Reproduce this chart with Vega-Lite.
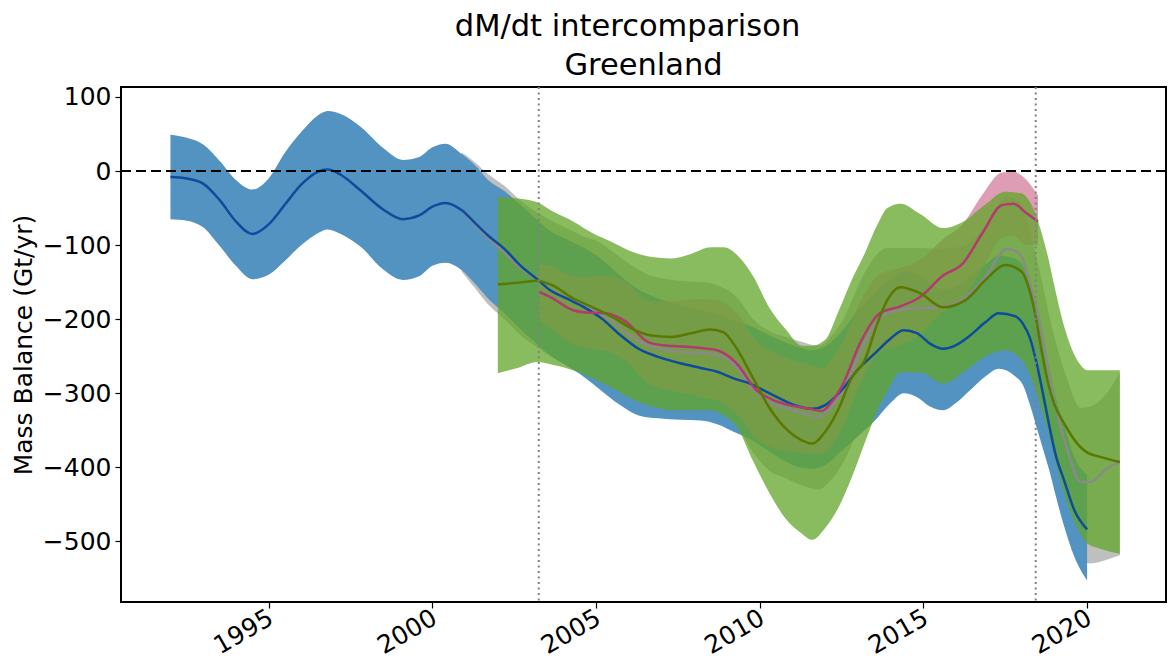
{
  "$schema": "https://vega.github.io/schema/vega-lite/v6.json",
  "width": 1045,
  "height": 515,
  "autosize": {"type": "none"},
  "padding": {"left": 121, "top": 87, "right": 3, "bottom": 66},
  "background": "white",
  "title": {
    "text": "dM/dt intercomparison\u00a0\u2800",
    "subtitle": "Greenland",
    "font": "DejaVu Sans",
    "fontSize": 30.5,
    "fontWeight": "normal",
    "color": "black",
    "subtitleFont": "DejaVu Sans",
    "subtitleFontSize": 30.5,
    "subtitleColor": "black",
    "subtitlePadding": 9,
    "anchor": "middle",
    "offset": 3
  },
  "config": {
    "view": {"stroke": "black", "strokeWidth": 2},
    "axis": {
      "labelFont": "DejaVu Sans",
      "labelFontSize": 25,
      "labelColor": "black",
      "titleFont": "DejaVu Sans",
      "titleFontSize": 25,
      "titleFontWeight": "normal",
      "titleColor": "black",
      "tickColor": "black",
      "tickSize": 6,
      "tickWidth": 1.2,
      "domain": false,
      "grid": false
    }
  },
  "datasets": {
    "dmdt": [
      {"method": "altimetry", "year": 1992.0, "dmdt": -8, "lower": -65, "upper": 49},
      {"method": "altimetry", "year": 1992.5, "dmdt": -10, "lower": -67, "upper": 45},
      {"method": "altimetry", "year": 1993.0, "dmdt": -17, "lower": -76, "upper": 36},
      {"method": "altimetry", "year": 1993.5, "dmdt": -39, "lower": -101, "upper": 14},
      {"method": "altimetry", "year": 1994.0, "dmdt": -68, "lower": -128, "upper": -12},
      {"method": "altimetry", "year": 1994.5, "dmdt": -85, "lower": -146, "upper": -25},
      {"method": "altimetry", "year": 1995.0, "dmdt": -72, "lower": -140, "upper": -10},
      {"method": "altimetry", "year": 1995.5, "dmdt": -45, "lower": -121, "upper": 25},
      {"method": "altimetry", "year": 1996.0, "dmdt": -18, "lower": -100, "upper": 53},
      {"method": "altimetry", "year": 1996.5, "dmdt": -1, "lower": -84, "upper": 75},
      {"method": "altimetry", "year": 1996.8, "dmdt": 2, "lower": -79, "upper": 81},
      {"method": "altimetry", "year": 1997.2, "dmdt": -5, "lower": -85, "upper": 77},
      {"method": "altimetry", "year": 1997.8, "dmdt": -26, "lower": -102, "upper": 60},
      {"method": "altimetry", "year": 1998.5, "dmdt": -52, "lower": -133, "upper": 31},
      {"method": "altimetry", "year": 1999.1, "dmdt": -65, "lower": -147, "upper": 15},
      {"method": "altimetry", "year": 1999.6, "dmdt": -60, "lower": -142, "upper": 19},
      {"method": "altimetry", "year": 2000.0, "dmdt": -48, "lower": -128, "upper": 32},
      {"method": "altimetry", "year": 2000.4, "dmdt": -43, "lower": -124, "upper": 37},
      {"method": "altimetry", "year": 2000.9, "dmdt": -53, "lower": -134, "upper": 23},
      {"method": "altimetry", "year": 2001.3, "dmdt": -70, "lower": -152, "upper": 8},
      {"method": "altimetry", "year": 2001.7, "dmdt": -87, "lower": -172, "upper": -12},
      {"method": "altimetry", "year": 2002.2, "dmdt": -105, "lower": -192, "upper": -27},
      {"method": "altimetry", "year": 2002.7, "dmdt": -128, "lower": -214, "upper": -46},
      {"method": "altimetry", "year": 2003.2, "dmdt": -146, "lower": -234, "upper": -66},
      {"method": "altimetry", "year": 2003.6, "dmdt": -161, "lower": -249, "upper": -81},
      {"method": "altimetry", "year": 2004.1, "dmdt": -172, "lower": -263, "upper": -92},
      {"method": "altimetry", "year": 2004.6, "dmdt": -183, "lower": -277, "upper": -103},
      {"method": "altimetry", "year": 2005.2, "dmdt": -200, "lower": -298, "upper": -120},
      {"method": "altimetry", "year": 2005.7, "dmdt": -220, "lower": -315, "upper": -140},
      {"method": "altimetry", "year": 2006.3, "dmdt": -240, "lower": -330, "upper": -160},
      {"method": "altimetry", "year": 2006.9, "dmdt": -251, "lower": -334, "upper": -172},
      {"method": "altimetry", "year": 2007.6, "dmdt": -260, "lower": -336, "upper": -182},
      {"method": "altimetry", "year": 2008.2, "dmdt": -266, "lower": -337, "upper": -188},
      {"method": "altimetry", "year": 2008.7, "dmdt": -271, "lower": -342, "upper": -193},
      {"method": "altimetry", "year": 2009.2, "dmdt": -280, "lower": -352, "upper": -202},
      {"method": "altimetry", "year": 2009.7, "dmdt": -287, "lower": -362, "upper": -209},
      {"method": "altimetry", "year": 2010.2, "dmdt": -298, "lower": -376, "upper": -220},
      {"method": "altimetry", "year": 2010.7, "dmdt": -309, "lower": -390, "upper": -230},
      {"method": "altimetry", "year": 2011.2, "dmdt": -318, "lower": -400, "upper": -238},
      {"method": "altimetry", "year": 2011.6, "dmdt": -321, "lower": -402, "upper": -242},
      {"method": "altimetry", "year": 2012.0, "dmdt": -316, "lower": -397, "upper": -237},
      {"method": "altimetry", "year": 2012.5, "dmdt": -296, "lower": -378, "upper": -217},
      {"method": "altimetry", "year": 2013.0, "dmdt": -268, "lower": -358, "upper": -188},
      {"method": "altimetry", "year": 2013.5, "dmdt": -247, "lower": -338, "upper": -166},
      {"method": "altimetry", "year": 2014.0, "dmdt": -226, "lower": -313, "upper": -146},
      {"method": "altimetry", "year": 2014.4, "dmdt": -215, "lower": -300, "upper": -135},
      {"method": "altimetry", "year": 2014.8, "dmdt": -219, "lower": -305, "upper": -139},
      {"method": "altimetry", "year": 2015.2, "dmdt": -233, "lower": -318, "upper": -152},
      {"method": "altimetry", "year": 2015.6, "dmdt": -240, "lower": -323, "upper": -160},
      {"method": "altimetry", "year": 2016.0, "dmdt": -235, "lower": -313, "upper": -155},
      {"method": "altimetry", "year": 2016.4, "dmdt": -223, "lower": -297, "upper": -143},
      {"method": "altimetry", "year": 2016.9, "dmdt": -204, "lower": -277, "upper": -126},
      {"method": "altimetry", "year": 2017.3, "dmdt": -192, "lower": -267, "upper": -114},
      {"method": "altimetry", "year": 2017.8, "dmdt": -196, "lower": -277, "upper": -118},
      {"method": "altimetry", "year": 2018.05, "dmdt": -207, "lower": -290, "upper": -129},
      {"method": "altimetry", "year": 2018.25, "dmdt": -225, "lower": -315, "upper": -147},
      {"method": "altimetry", "year": 2018.45, "dmdt": -258, "lower": -345, "upper": -180},
      {"method": "altimetry", "year": 2018.65, "dmdt": -300, "lower": -375, "upper": -222},
      {"method": "altimetry", "year": 2018.85, "dmdt": -345, "lower": -405, "upper": -267},
      {"method": "altimetry", "year": 2019.05, "dmdt": -385, "lower": -440, "upper": -307},
      {"method": "altimetry", "year": 2019.3, "dmdt": -418, "lower": -480, "upper": -344},
      {"method": "altimetry", "year": 2019.6, "dmdt": -457, "lower": -520, "upper": -385},
      {"method": "altimetry", "year": 2020.0, "dmdt": -484, "lower": -553, "upper": -410},

      {"method": "gravimetry", "year": 2002.0, "dmdt": -153, "lower": -273, "upper": -35},
      {"method": "gravimetry", "year": 2002.6, "dmdt": -151, "lower": -266, "upper": -37},
      {"method": "gravimetry", "year": 2003.2, "dmdt": -148, "lower": -258, "upper": -42},
      {"method": "gravimetry", "year": 2003.7, "dmdt": -155, "lower": -262, "upper": -55},
      {"method": "gravimetry", "year": 2004.3, "dmdt": -172, "lower": -269, "upper": -68},
      {"method": "gravimetry", "year": 2004.9, "dmdt": -184, "lower": -280, "upper": -84},
      {"method": "gravimetry", "year": 2005.5, "dmdt": -197, "lower": -293, "upper": -96},
      {"method": "gravimetry", "year": 2006.1, "dmdt": -213, "lower": -308, "upper": -109},
      {"method": "gravimetry", "year": 2006.7, "dmdt": -222, "lower": -318, "upper": -116},
      {"method": "gravimetry", "year": 2007.3, "dmdt": -224, "lower": -323, "upper": -118},
      {"method": "gravimetry", "year": 2007.9, "dmdt": -219, "lower": -323, "upper": -112},
      {"method": "gravimetry", "year": 2008.5, "dmdt": -214, "lower": -323, "upper": -103},
      {"method": "gravimetry", "year": 2008.9, "dmdt": -218, "lower": -330, "upper": -103},
      {"method": "gravimetry", "year": 2009.3, "dmdt": -240, "lower": -345, "upper": -113},
      {"method": "gravimetry", "year": 2009.8, "dmdt": -280, "lower": -392, "upper": -142},
      {"method": "gravimetry", "year": 2010.3, "dmdt": -320, "lower": -435, "upper": -185},
      {"method": "gravimetry", "year": 2010.8, "dmdt": -348, "lower": -470, "upper": -214},
      {"method": "gravimetry", "year": 2011.3, "dmdt": -364, "lower": -490, "upper": -236},
      {"method": "gravimetry", "year": 2011.6, "dmdt": -368, "lower": -498, "upper": -236},
      {"method": "gravimetry", "year": 2012.0, "dmdt": -352, "lower": -482, "upper": -228},
      {"method": "gravimetry", "year": 2012.4, "dmdt": -322, "lower": -455, "upper": -190},
      {"method": "gravimetry", "year": 2012.8, "dmdt": -280, "lower": -415, "upper": -148},
      {"method": "gravimetry", "year": 2013.2, "dmdt": -256, "lower": -368, "upper": -112},
      {"method": "gravimetry", "year": 2013.6, "dmdt": -205, "lower": -323, "upper": -72},
      {"method": "gravimetry", "year": 2013.9, "dmdt": -174, "lower": -297, "upper": -50},
      {"method": "gravimetry", "year": 2014.3, "dmdt": -157, "lower": -272, "upper": -44},
      {"method": "gravimetry", "year": 2014.9, "dmdt": -165, "lower": -272, "upper": -58},
      {"method": "gravimetry", "year": 2015.6, "dmdt": -184, "lower": -287, "upper": -77},
      {"method": "gravimetry", "year": 2016.3, "dmdt": -174, "lower": -269, "upper": -66},
      {"method": "gravimetry", "year": 2016.9, "dmdt": -147, "lower": -250, "upper": -45},
      {"method": "gravimetry", "year": 2017.5, "dmdt": -127, "lower": -242, "upper": -28},
      {"method": "gravimetry", "year": 2018.0, "dmdt": -136, "lower": -255, "upper": -30},
      {"method": "gravimetry", "year": 2018.2, "dmdt": -155, "lower": -270, "upper": -38},
      {"method": "gravimetry", "year": 2018.4, "dmdt": -190, "lower": -292, "upper": -55},
      {"method": "gravimetry", "year": 2018.6, "dmdt": -240, "lower": -320, "upper": -82},
      {"method": "gravimetry", "year": 2018.8, "dmdt": -285, "lower": -350, "upper": -115},
      {"method": "gravimetry", "year": 2019.0, "dmdt": -315, "lower": -385, "upper": -155},
      {"method": "gravimetry", "year": 2019.3, "dmdt": -341, "lower": -435, "upper": -210},
      {"method": "gravimetry", "year": 2019.8, "dmdt": -373, "lower": -490, "upper": -262},
      {"method": "gravimetry", "year": 2020.0, "dmdt": -380, "lower": -503, "upper": -269},
      {"method": "gravimetry", "year": 2020.4, "dmdt": -386, "lower": -510, "upper": -269},
      {"method": "gravimetry", "year": 2021.0, "dmdt": -393, "lower": -517, "upper": -269},

      {"method": "input-output", "year": 2003.25, "dmdt": -163, "lower": -201, "upper": -125},
      {"method": "input-output", "year": 2003.6, "dmdt": -170, "lower": -212, "upper": -128},
      {"method": "input-output", "year": 2004.3, "dmdt": -188, "lower": -234, "upper": -142},
      {"method": "input-output", "year": 2004.7, "dmdt": -191, "lower": -239, "upper": -143},
      {"method": "input-output", "year": 2005.3, "dmdt": -192, "lower": -243, "upper": -141},
      {"method": "input-output", "year": 2005.9, "dmdt": -203, "lower": -256, "upper": -150},
      {"method": "input-output", "year": 2006.6, "dmdt": -231, "lower": -287, "upper": -175},
      {"method": "input-output", "year": 2007.2, "dmdt": -236, "lower": -296, "upper": -176},
      {"method": "input-output", "year": 2007.7, "dmdt": -237, "lower": -300, "upper": -174},
      {"method": "input-output", "year": 2008.2, "dmdt": -239, "lower": -305, "upper": -173},
      {"method": "input-output", "year": 2008.7, "dmdt": -242, "lower": -310, "upper": -174},
      {"method": "input-output", "year": 2009.3, "dmdt": -260, "lower": -328, "upper": -192},
      {"method": "input-output", "year": 2009.9, "dmdt": -296, "lower": -362, "upper": -230},
      {"method": "input-output", "year": 2010.4, "dmdt": -309, "lower": -374, "upper": -244},
      {"method": "input-output", "year": 2010.9, "dmdt": -316, "lower": -379, "upper": -253},
      {"method": "input-output", "year": 2011.5, "dmdt": -321, "lower": -381, "upper": -261},
      {"method": "input-output", "year": 2011.9, "dmdt": -324, "lower": -382, "upper": -266},
      {"method": "input-output", "year": 2012.2, "dmdt": -312, "lower": -370, "upper": -254},
      {"method": "input-output", "year": 2012.55, "dmdt": -287, "lower": -344, "upper": -230},
      {"method": "input-output", "year": 2013.06, "dmdt": -233, "lower": -288, "upper": -178},
      {"method": "input-output", "year": 2013.67, "dmdt": -192, "lower": -245, "upper": -139},
      {"method": "input-output", "year": 2014.28, "dmdt": -183, "lower": -235, "upper": -131},
      {"method": "input-output", "year": 2014.9, "dmdt": -170, "lower": -220, "upper": -120},
      {"method": "input-output", "year": 2015.6, "dmdt": -141, "lower": -190, "upper": -92},
      {"method": "input-output", "year": 2016.2, "dmdt": -125, "lower": -172, "upper": -72},
      {"method": "input-output", "year": 2016.8, "dmdt": -84, "lower": -132, "upper": -32},
      {"method": "input-output", "year": 2017.4, "dmdt": -46, "lower": -90, "upper": -2},
      {"method": "input-output", "year": 2017.75, "dmdt": -44, "lower": -87, "upper": -1},
      {"method": "input-output", "year": 2018.15, "dmdt": -57, "lower": -100, "upper": -12},
      {"method": "input-output", "year": 2018.5, "dmdt": -68, "lower": -100, "upper": -33},

      {"method": "combined", "year": 2000.9, "dmdt": -53, "lower": -136, "upper": 25},
      {"method": "combined", "year": 2001.3, "dmdt": -72, "lower": -158, "upper": 12},
      {"method": "combined", "year": 2001.7, "dmdt": -90, "lower": -180, "upper": -4},
      {"method": "combined", "year": 2002.2, "dmdt": -110, "lower": -200, "upper": -20},
      {"method": "combined", "year": 2002.7, "dmdt": -131, "lower": -222, "upper": -40},
      {"method": "combined", "year": 2003.2, "dmdt": -147, "lower": -238, "upper": -56},
      {"method": "combined", "year": 2003.6, "dmdt": -160, "lower": -250, "upper": -66},
      {"method": "combined", "year": 2004.1, "dmdt": -172, "lower": -260, "upper": -77},
      {"method": "combined", "year": 2004.6, "dmdt": -182, "lower": -268, "upper": -88},
      {"method": "combined", "year": 2005.1, "dmdt": -191, "lower": -276, "upper": -96},
      {"method": "combined", "year": 2005.6, "dmdt": -207, "lower": -292, "upper": -112},
      {"method": "combined", "year": 2006.1, "dmdt": -224, "lower": -308, "upper": -128},
      {"method": "combined", "year": 2006.6, "dmdt": -236, "lower": -316, "upper": -140},
      {"method": "combined", "year": 2007.2, "dmdt": -242, "lower": -320, "upper": -146},
      {"method": "combined", "year": 2007.8, "dmdt": -245, "lower": -322, "upper": -149},
      {"method": "combined", "year": 2008.3, "dmdt": -246, "lower": -324, "upper": -150},
      {"method": "combined", "year": 2008.8, "dmdt": -250, "lower": -330, "upper": -156},
      {"method": "combined", "year": 2009.3, "dmdt": -265, "lower": -345, "upper": -170},
      {"method": "combined", "year": 2009.8, "dmdt": -295, "lower": -380, "upper": -200},
      {"method": "combined", "year": 2010.3, "dmdt": -312, "lower": -405, "upper": -216},
      {"method": "combined", "year": 2010.8, "dmdt": -320, "lower": -415, "upper": -224},
      {"method": "combined", "year": 2011.3, "dmdt": -327, "lower": -425, "upper": -231},
      {"method": "combined", "year": 2011.8, "dmdt": -332, "lower": -430, "upper": -236},
      {"method": "combined", "year": 2012.2, "dmdt": -318, "lower": -416, "upper": -222},
      {"method": "combined", "year": 2012.55, "dmdt": -296, "lower": -394, "upper": -200},
      {"method": "combined", "year": 2013.0, "dmdt": -252, "lower": -350, "upper": -156},
      {"method": "combined", "year": 2013.3, "dmdt": -224, "lower": -320, "upper": -130},
      {"method": "combined", "year": 2013.9, "dmdt": -192, "lower": -285, "upper": -104},
      {"method": "combined", "year": 2014.6, "dmdt": -186, "lower": -272, "upper": -104},
      {"method": "combined", "year": 2015.6, "dmdt": -183, "lower": -265, "upper": -105},
      {"method": "combined", "year": 2016.3, "dmdt": -170, "lower": -250, "upper": -100},
      {"method": "combined", "year": 2016.9, "dmdt": -143, "lower": -225, "upper": -73},
      {"method": "combined", "year": 2017.55, "dmdt": -105, "lower": -185, "upper": -35},
      {"method": "combined", "year": 2017.95, "dmdt": -112, "lower": -195, "upper": -42},
      {"method": "combined", "year": 2018.2, "dmdt": -143, "lower": -230, "upper": -73},
      {"method": "combined", "year": 2018.55, "dmdt": -205, "lower": -300, "upper": -135},
      {"method": "combined", "year": 2018.95, "dmdt": -300, "lower": -400, "upper": -215},
      {"method": "combined", "year": 2019.4, "dmdt": -377, "lower": -485, "upper": -282},
      {"method": "combined", "year": 2019.8, "dmdt": -420, "lower": -525, "upper": -320},
      {"method": "combined", "year": 2020.1, "dmdt": -420, "lower": -530, "upper": -318},
      {"method": "combined", "year": 2020.6, "dmdt": -402, "lower": -525, "upper": -300},
      {"method": "combined", "year": 2021.0, "dmdt": -393, "lower": -519, "upper": -272}
    ],
    "zero_line": [{"level": 0}],
    "epochs": [{"epoch": 2003.25}, {"epoch": 2018.43}]
  },
  "layer": [
    {
      "data": {"name": "dmdt"},
      "transform": [{"filter": "datum.method === 'combined'"}],
      "mark": {"type": "area", "interpolate": "monotone", "color": "#aaaaaa", "opacity": 0.75, "clip": true},
      "encoding": {
        "x": {"field": "year", "type": "quantitative", "scale": {"domain": [1990.49, 2022.41], "nice": false, "zero": false},
              "axis": {"values": [1995, 2000, 2005, 2010, 2015, 2020], "format": "d", "labelAngle": -30, "labelAlign": "right", "labelBaseline": "top", "labelPadding": -3, "labelOffset": -4, "labelOverlap": false, "labelFlush": false, "title": null}},
        "y": {"field": "lower", "type": "quantitative", "scale": {"domain": [-582, 113.5], "nice": false, "zero": false},
              "axis": {"values": [-500, -400, -300, -200, -100, 0, 100], "format": "d", "labelPadding": 4, "title": "Mass Balance (Gt/yr)", "titlePadding": 6}},
        "y2": {"field": "upper"}
      }
    },
    {
      "data": {"name": "dmdt"},
      "transform": [{"filter": "datum.method === 'altimetry'"}],
      "mark": {"type": "area", "interpolate": "monotone", "color": "#5393c2", "opacity": 1, "clip": true},
      "encoding": {
        "x": {"field": "year", "type": "quantitative"},
        "y": {"field": "lower", "type": "quantitative"},
        "y2": {"field": "upper"}
      }
    },
    {
      "data": {"name": "dmdt"},
      "transform": [{"filter": "datum.method === 'input-output'"}],
      "mark": {"type": "area", "interpolate": "monotone", "color": "#d27c9b", "opacity": 0.75, "clip": true},
      "encoding": {
        "x": {"field": "year", "type": "quantitative"},
        "y": {"field": "lower", "type": "quantitative"},
        "y2": {"field": "upper"}
      }
    },
    {
      "data": {"name": "dmdt"},
      "transform": [{"filter": "datum.method === 'gravimetry'"}],
      "mark": {"type": "area", "interpolate": "monotone", "color": "#60a628", "opacity": 0.75, "clip": true},
      "encoding": {
        "x": {"field": "year", "type": "quantitative"},
        "y": {"field": "lower", "type": "quantitative"},
        "y2": {"field": "upper"}
      }
    },
    {
      "data": {"name": "dmdt"},
      "transform": [{"filter": "datum.method === 'combined'"}],
      "mark": {"type": "line", "interpolate": "monotone", "color": "#8a8a8a", "strokeWidth": 2.5, "clip": true},
      "encoding": {
        "x": {"field": "year", "type": "quantitative"},
        "y": {"field": "dmdt", "type": "quantitative"}
      }
    },
    {
      "data": {"name": "dmdt"},
      "transform": [{"filter": "datum.method === 'altimetry'"}],
      "mark": {"type": "line", "interpolate": "monotone", "color": "#0d4c9c", "strokeWidth": 2.5, "clip": true},
      "encoding": {
        "x": {"field": "year", "type": "quantitative"},
        "y": {"field": "dmdt", "type": "quantitative"}
      }
    },
    {
      "data": {"name": "dmdt"},
      "transform": [{"filter": "datum.method === 'input-output'"}],
      "mark": {"type": "line", "interpolate": "monotone", "color": "#b23a70", "strokeWidth": 2.5, "clip": true},
      "encoding": {
        "x": {"field": "year", "type": "quantitative"},
        "y": {"field": "dmdt", "type": "quantitative"}
      }
    },
    {
      "data": {"name": "dmdt"},
      "transform": [{"filter": "datum.method === 'gravimetry'"}],
      "mark": {"type": "line", "interpolate": "monotone", "color": "#5b7800", "strokeWidth": 2.5, "clip": true},
      "encoding": {
        "x": {"field": "year", "type": "quantitative"},
        "y": {"field": "dmdt", "type": "quantitative"}
      }
    },
    {
      "data": {"name": "zero_line"},
      "mark": {"type": "rule", "color": "black", "strokeWidth": 2, "strokeDash": [10, 5]},
      "encoding": {
        "y": {"field": "level", "type": "quantitative"}
      }
    },
    {
      "data": {"name": "epochs"},
      "mark": {"type": "rule", "color": "#808080", "strokeWidth": 2, "strokeDash": [2, 3.5]},
      "encoding": {
        "x": {"field": "epoch", "type": "quantitative"}
      }
    }
  ]
}
